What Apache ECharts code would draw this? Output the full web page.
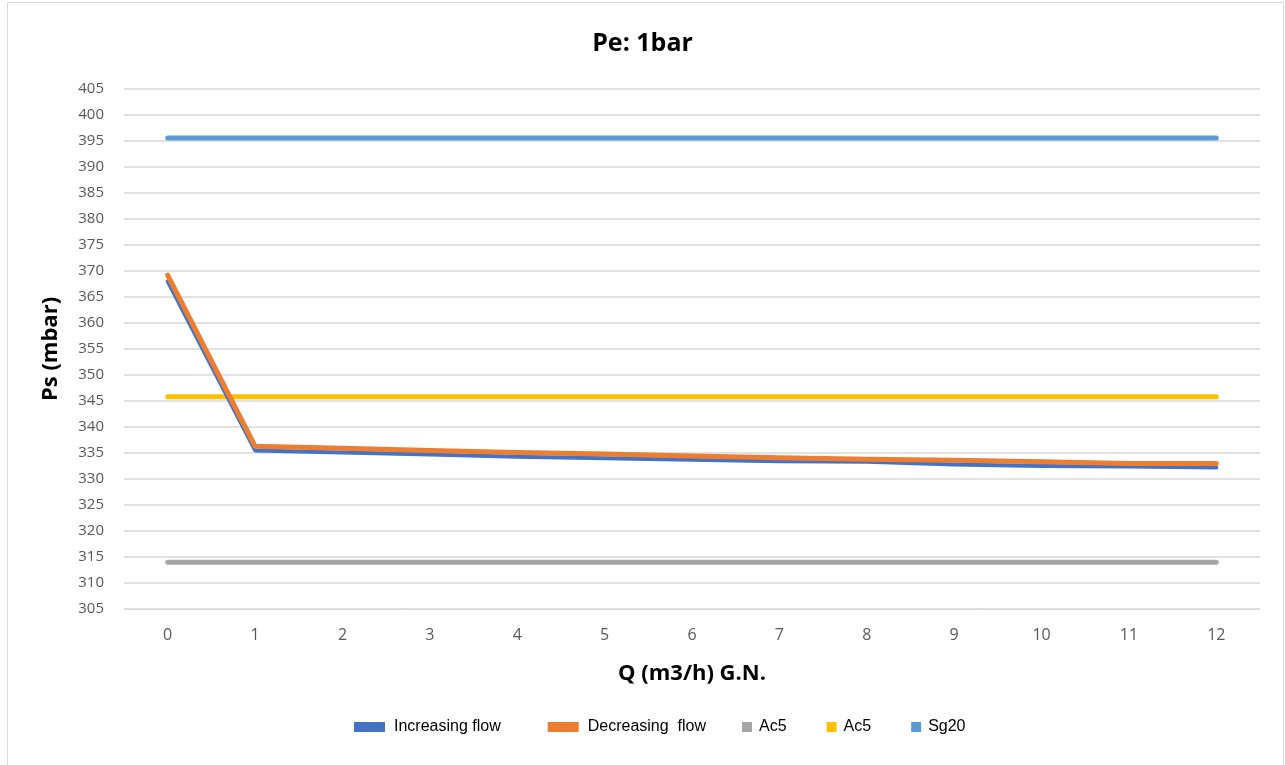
<!DOCTYPE html>
<html><head><meta charset="utf-8">
<script src="https://cdn.jsdelivr.net/npm/echarts@6/dist/echarts.min.js"></script>
<style>html,body{margin:0;padding:0;background:#fff}#c{width:1285px;height:765px}</style>
</head><body><div id="c"></div>
<script>
const categories = ['0','1','2','3','4','5','6','7','8','9','10','11','12'];
const increasingFlow = [368.0, 335.5, 335.1, 334.7, 334.3, 334.0, 333.7, 333.4, 333.3, 332.8, 332.5, 332.4, 332.2];
const decreasingFlow = [369.2, 336.3, 335.9, 335.5, 335.1, 334.8, 334.4, 334.1, 333.8, 333.6, 333.3, 333.0, 333.0];
const ac5Grey = [314,314,314,314,314,314,314,314,314,314,314,314,314];
const ac5Yellow = [345.8,345.8,345.8,345.8,345.8,345.8,345.8,345.8,345.8,345.8,345.8,345.8,345.8];
const sg20 = [395.6,395.6,395.6,395.6,395.6,395.6,395.6,395.6,395.6,395.6,395.6,395.6,395.6];
const titleText = 'Pe: 1bar';
const xName = 'Q (m3/h) G.N.';
const yName = 'Ps (mbar)';

const chart = echarts.init(document.getElementById('c'));
const font = 'Liberation Sans, Arial, sans-serif';
const oFont = 'Open Sans, Noto Sans, sans-serif';
function line(name, data, color, width, z) {
  return { name, type: 'line', data, symbol: 'none', z,
    lineStyle: { color, width, cap: 'round', join: 'round' },
    itemStyle: { color }, emphasis: { disabled: true } };
}
chart.setOption({
  animation: false,
  graphic: [{ type: 'rect', shape: { x: 7.5, y: 2.5, width: 1276, height: 770 },
    style: { fill: 'none', stroke: '#d9d9d9', lineWidth: 1 }, silent: true }],
  title: { text: titleText, left: 'center', top: 26,
    textStyle: { fontFamily: oFont, fontSize: 25, fontWeight: 'bold', color: '#000' } },
  grid: { left: 124, right: 25, top: 89, bottom: 156 },
  legend: [
    { data: ['Increasing flow', 'Decreasing  flow'], left: 349, top: 714,
      itemWidth: 31, itemHeight: 10, itemGap: 47, icon: 'rect',
      textStyle: { fontFamily: font, fontSize: 16, color: '#000', padding: [0,0,0,4] } },
    { data: ['Ac5', 'Ac5 ', 'Sg20'], left: 737, top: 714,
      itemWidth: 10, itemHeight: 10, itemGap: 40, icon: 'rect',
      formatter: n => n.trim(),
      textStyle: { fontFamily: font, fontSize: 16, color: '#000', padding: [0,0,0,2] } }
  ],
  xAxis: { type: 'category', data: categories, boundaryGap: true,
    name: xName, nameLocation: 'middle', nameGap: 54,
    nameTextStyle: { fontFamily: oFont, fontSize: 22, fontWeight: 'bold', color: '#000' },
    axisLine: { lineStyle: { color: '#d9d9d9', width: 1 } },
    axisTick: { show: false },
    axisLabel: { fontFamily: oFont, fontSize: 16, color: '#595959', margin: 18 } },
  yAxis: { type: 'value', min: 305, max: 405, interval: 5,
    name: yName, nameLocation: 'middle', nameGap: 62,
    nameTextStyle: { fontFamily: oFont, fontSize: 22, fontWeight: 'bold', color: '#000' },
    axisLine: { show: false }, axisTick: { show: false },
    axisLabel: { fontFamily: oFont, fontSize: 15, color: '#595959', margin: 20 },
    splitLine: { lineStyle: { color: '#d9d9d9', width: 1.5 } } },
  series: [
    line('Increasing flow', increasingFlow, '#4472C4', 4, 5),
    line('Decreasing  flow', decreasingFlow, '#ED7D31', 5, 6),
    line('Ac5', ac5Grey, '#A5A5A5', 5, 3),
    line('Ac5 ', ac5Yellow, '#FFC000', 5, 3),
    line('Sg20', sg20, '#5B9BD5', 5, 3)
  ]
});
</script></body></html>
